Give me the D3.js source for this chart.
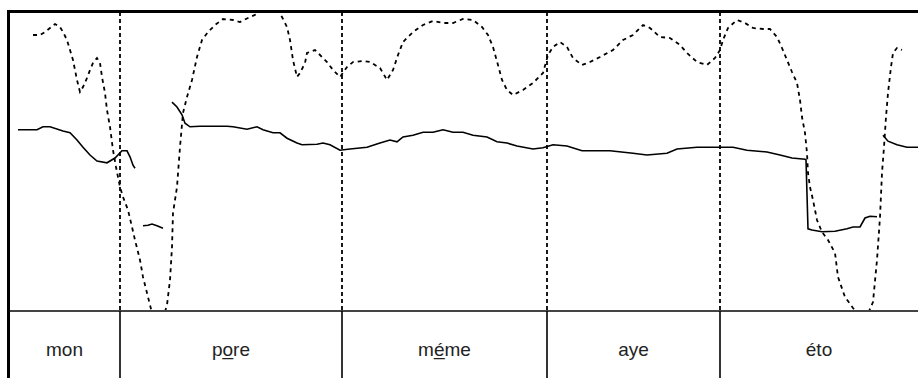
<!DOCTYPE html>
<html>
<head>
<meta charset="utf-8">
<script src="https://cdn.jsdelivr.net/npm/d3@7"></script>
<style>
  html, body { margin: 0; padding: 0; background: #fff; }
  svg { display: block; }
</style>
</head>
<body>
<script>
// Time in ms, pitch in Hz (dashed), intensity in dB (solid; null = gap)
const pitchTime = [48,62,72,82,92,102,108,116,122,128,132,136,142,148,156,162,168,176,182,186,192,196,202,208,214,222,228,238,246,252,262,268,278,282,292,304,316,322,326,328,332,336,342,348,356,366,376,386,398,412,428,448,462,478,496,512,532,546,556,562,568,576,582,592,596,612,622,636,648,662,676,688,708,722,742,756,768,778,788,808,828,848,868,888,908,928,946,958,968,978,986,996,1008,1028,1048,1068,1078,1088,1102,1116,1128,1146,1162,1182,1208,1228,1248,1268,1282,1302,1322,1342,1356,1376,1396,1412,1422,1428,1438,1456,1472,1488,1508,1522,1536,1546,1556,1566,1576,1582,1586,1592,1596,1598,1602,1608,1616,1626,1638,1652,1658,1672,1688,1702,1716,1728,1736,1742,1746,1750,1754,1758,1764,1768,1776,1786];
const pitchHz = [376,376,379,383,387,384,379,371,361,351,341,331,319,324,333,341,348,353,348,334,318,301,284,261,244,224,214,201,184,171,151,134,114,106,86,86,106,131,164,198,211,224,264,298,314,331,354,371,379,386,392,391,389,393,397,406,406,394,384,371,351,334,338,348,358,361,356,349,341,334,344,349,350,349,343,331,341,356,369,379,386,390,388,388,392,391,384,376,364,346,331,321,316,321,328,338,356,364,369,364,353,346,349,354,361,371,376,386,383,374,373,366,358,349,346,353,361,371,383,391,388,383,382,382,374,363,351,339,328,311,294,278,258,238,224,211,191,179,171,158,134,114,103,95,95,109,151,194,238,264,294,318,344,358,363,361];

const intensityTime = [18,56,68,82,108,122,136,148,162,176,196,212,226,236,242,248,252,null,268,278,286,296,308,null,326,336,346,352,362,382,436,448,476,496,508,528,542,556,576,586,616,628,642,662,682,716,742,762,776,788,808,828,848,868,888,908,928,956,976,996,1016,1048,1068,1088,1116,1146,1202,1248,1276,1316,1336,1376,1448,1476,1516,1542,1566,1592,1594,1598,1606,1626,1652,1676,1688,1702,1712,1722,1736,null,1748,1758,1776,1796,1822];
const intensityDb = [70.2,70.2,70.7,70.7,70.0,69.7,68.5,67.3,66.0,65.0,64.7,65.5,66.7,66.7,65.7,64.3,63.8,null,54.2,54.3,54.5,54.2,53.8,null,74.8,74.0,72.7,71.3,70.7,70.8,70.8,70.7,70.3,70.7,70.2,69.7,69.7,68.8,68.0,67.7,67.8,68.0,67.7,66.8,67.0,67.3,68.0,68.5,68.2,69.0,69.3,69.8,69.8,70.2,69.8,69.8,69.3,69.0,68.2,68.0,67.5,67.0,67.2,67.7,67.5,66.7,66.7,66.3,66.0,66.3,67.0,67.3,67.3,66.8,66.5,66.0,65.5,65.3,65.2,53.7,53.5,53.2,53.3,53.7,54.0,54.0,55.5,55.8,55.7,null,69.3,68.3,67.7,67.3,67.3];

// Word tier
const wordLabels = ["mon", "po\u0332re", "mé\u0332me", "aye", "éto"];
const wordBounds = [0, 222, 666, 1076, 1422, 1818];

const W = 918, H = 378;
const plotTop = 12, plotBottom = 311, plotLeft = 9, plotRight = 918;

const x = d3.scaleLinear().domain([0, 1818]).range([plotLeft, plotRight]);
const yPitch = d3.scaleLinear().domain([100, 399]).range([plotBottom, plotTop]);
const yInt = d3.scaleLinear().domain([40, 90]).range([plotBottom, 11]);

const svg = d3.select("body").append("svg").attr("width", W).attr("height", H);

svg.append("defs").append("clipPath").attr("id", "plot-clip")
  .append("rect").attr("x", plotLeft).attr("y", plotTop)
  .attr("width", plotRight - plotLeft).attr("height", plotBottom - plotTop);

const curves = svg.append("g").attr("clip-path", "url(#plot-clip)");

// interior word boundaries, dashed in the signal panel
const inner = wordBounds.slice(1, -1);
svg.append("g").selectAll("line").data(inner).join("line")
  .attr("x1", d => x(d)).attr("x2", d => x(d))
  .attr("y1", plotTop).attr("y2", plotBottom)
  .attr("stroke", "#000").attr("stroke-width", 1.8)
  .attr("stroke-dasharray", "4,3");

// pitch contour
const pitchData = pitchTime.map((t, i) => [t, pitchHz[i]]);
curves.append("path")
  .datum(pitchData)
  .attr("fill", "none").attr("stroke", "#000").attr("stroke-width", 1.8)
  .attr("stroke-dasharray", "4,4")
  .attr("d", d3.line().x(d => x(d[0])).y(d => yPitch(d[1])));

// intensity contour
const intData = intensityTime.map((t, i) => [t, intensityDb[i]]);
curves.append("path")
  .datum(intData)
  .attr("fill", "none").attr("stroke", "#000").attr("stroke-width", 1.6)
  .attr("d", d3.line().defined(d => d[0] !== null && d[1] !== null)
    .x(d => x(d[0])).y(d => yInt(d[1])));

// tier divider and solid boundaries in the tier
svg.append("line")
  .attr("x1", plotLeft).attr("x2", plotRight)
  .attr("y1", plotBottom).attr("y2", plotBottom)
  .attr("stroke", "#444").attr("stroke-width", 2);

svg.append("g").selectAll("line").data(inner).join("line")
  .attr("x1", d => x(d)).attr("x2", d => x(d))
  .attr("y1", plotBottom).attr("y2", H)
  .attr("stroke", "#000").attr("stroke-width", 1.6);

// word labels, centred in their intervals
svg.append("g").selectAll("text").data(wordLabels).join("text")
  .attr("x", (d, i) => x((wordBounds[i] + wordBounds[i + 1]) / 2))
  .attr("y", 356)
  .attr("text-anchor", "middle")
  .attr("font-family", "Liberation Sans, Arial, sans-serif")
  .attr("font-size", 19)
  .attr("fill", "#222")
  .text(d => d);

// outer frame: top and left edges
svg.append("line")
  .attr("x1", 7).attr("x2", W).attr("y1", 11.5).attr("y2", 11.5)
  .attr("stroke", "#000").attr("stroke-width", 3);
svg.append("line")
  .attr("x1", 8.5).attr("x2", 8.5).attr("y1", 10).attr("y2", H)
  .attr("stroke", "#000").attr("stroke-width", 3);
</script>
</body>
</html>
